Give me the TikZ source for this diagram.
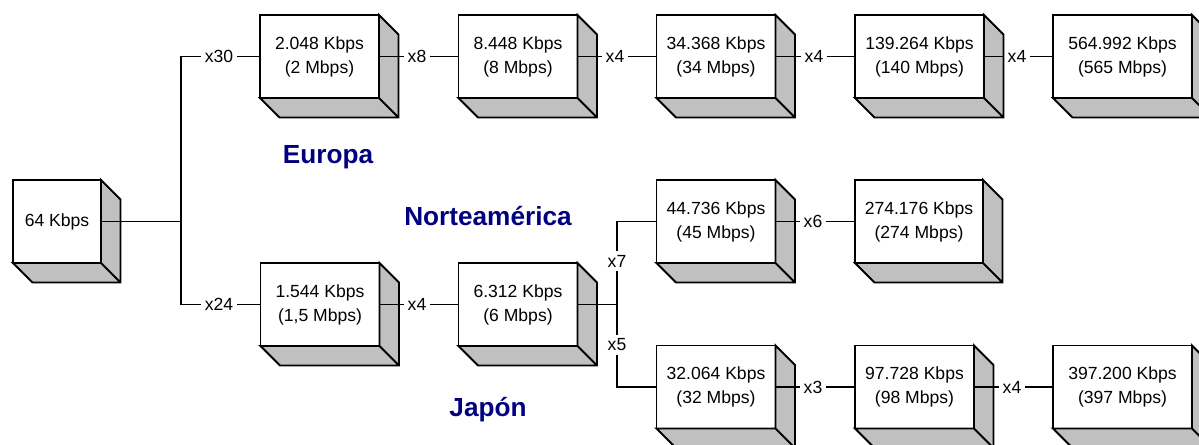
\documentclass[tikz,border=0pt]{standalone}
\usepackage{fontspec}
\setmainfont{Liberation Sans}
\usetikzlibrary{calc}
\definecolor{facegray}{RGB}{192,192,192}
\definecolor{titleblue}{RGB}{0,0,128}
\tikzset{ b/.style = { rectangle % rate box
        , draw
        , fill = white
        , outer sep = 0pt
        , inner sep = 0pt
        , minimum width = 2.38cm
        , minimum height = 1.66cm
        , align = center
        , font = \fontsize{10}{13.7}\selectfont
        }
        , m/.style = { rectangle % multiplex factor
        , inner sep = 1.5pt
        , font = \fontsize{10}{12}\selectfont
        }
        , t/.style = { rectangle % hierarchy name
        , font = \fontsize{14.9}{18}\selectfont\bfseries\color{titleblue}
        }
        }

\begin{document}
\begin{tikzpicture}[line width=1.1pt,
        face_style/.style={fill=facegray,draw=black,line join=miter}]
        \useasboundingbox (0,0) rectangle (23.98,-8.88);
        \clip (0,0) rectangle (23.98,-8.88);

        \node [b,minimum width=1.76cm](n1) at (1.14,-4.43) {64 Kbps};
        \node [b](n2) at (6.39,-1.13) {2.048 Kbps\\(2 Mbps)};
        \node [b](n3) at (10.36,-1.13) {8.448 Kbps\\(8 Mbps)};
        \node [b](n4) at (14.32,-1.13) {34.368 Kbps\\(34 Mbps)};
        \node [b,minimum width=2.58cm](n5) at (18.39,-1.13) {139.264 Kbps\\(140 Mbps)};
        \node [b,minimum width=2.78cm](n6) at (22.45,-1.13) {564.992 Kbps\\(565 Mbps)};
        \node [b](n7) at (6.40,-6.09) {1.544 Kbps\\(1,5 Mbps)};
        \node [b](n8) at (10.36,-6.09) {6.312 Kbps\\(6 Mbps)};
        \node [b](n9) at (14.32,-4.43) {44.736 Kbps\\(45 Mbps)};
        \node [b,minimum width=2.56cm](n10) at (18.38,-4.43) {274.176 Kbps\\(274 Mbps)};
        \node [b](n11) at (14.32,-7.74) {32.064 Kbps\\(32 Mbps)};
        \node [b](n12) at (18.29,-7.74) {97.728 Kbps\\(98 Mbps)};
        \node [b,minimum width=2.78cm](n13) at (22.45,-7.74) {397.200 Kbps\\(397 Mbps)};

        % side and bottom faces
        \foreach \i in {1,...,13}
            \draw [face_style] (n\i.north east) -- ++(0.39,-0.39) -- ($(n\i.south east)+(0.39,-0.39)$)
                -- ($(n\i.south west)+(0.39,-0.39)$) -- (n\i.south west) -- (n\i.south east) -- cycle
                (n\i.south east) -- ++(0.39,-0.39);

        \node [m](l1) at (4.38,-1.13) {x30};
        \node [m](l2) at (4.38,-6.09) {x24};
        \node [m](l3) at (8.34,-1.13) {x8};
        \node [m](l4) at (12.30,-1.13) {x4};
        \node [m](l5) at (16.28,-1.13) {x4};
        \node [m](l6) at (20.34,-1.13) {x4};
        \node [m](l7) at (8.34,-6.09) {x4};
        \node [m](l8) at (12.34,-5.22) {x7};
        \node [m](l9) at (12.34,-6.90) {x5};
        \node [m](l10) at (16.26,-4.43) {x6};
        \node [m](l11) at (16.26,-7.74) {x3};
        \node [m](l12) at (20.24,-7.74) {x4};

        \coordinate (c1) at (3.62,-4.43);
        \coordinate (c2) at (12.34,-6.09);

        \draw (n1.east) -- (c1);
        \draw (c1) |- (l1);
        \draw (l1) -- (n2);
        \draw (c1) |- (l2);
        \draw (l2) -- (n7);
        \draw (n2.east) -- (l3) -- (n3);
        \draw (n3.east) -- (l4) -- (n4);
        \draw (n4.east) -- (l5) -- (n5);
        \draw (n5.east) -- (l6) -- (n6);
        \draw (n7.east) -- (l7) -- (n8);
        \draw (n8.east) -- (c2);
        \draw (c2) -- (l8) |- (n9);
        \draw (c2) -- (l9) |- (n11);
        \draw (n9.east) -- (l10) -- (n10);
        \draw (n11.east) -- (l11) -- (n12);
        \draw (n12.east) -- (l12) -- (n13);

        \node [t](europa) at (6.56,-3.14) {Europa};
        \node [t](norte) at (9.76,-4.32) {Norteamérica};
        \node [t](japon) at (9.76,-8.20) {Japón};
\end{tikzpicture}
\end{document}
